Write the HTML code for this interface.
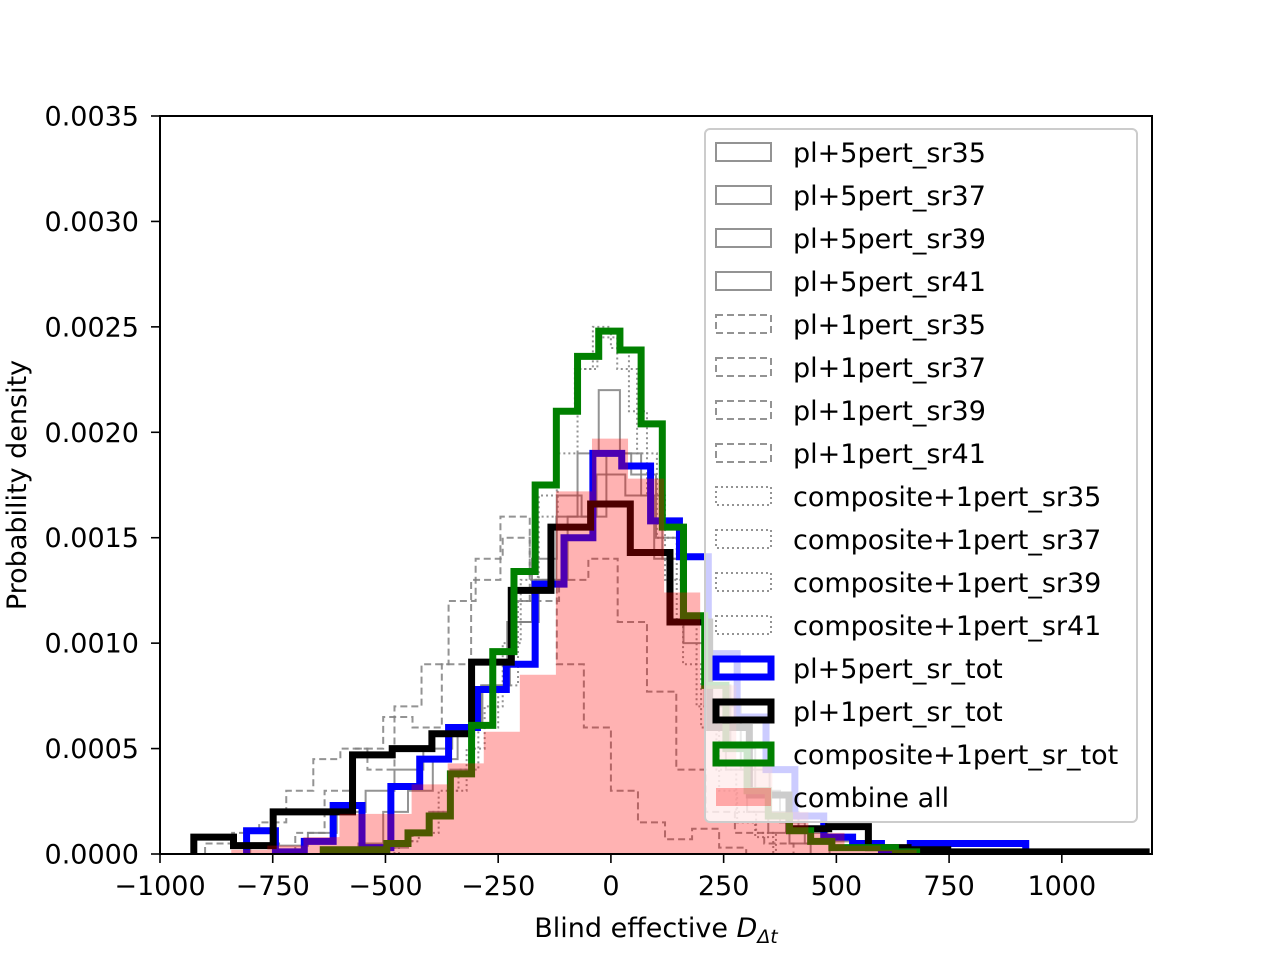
<!DOCTYPE html>
<html><head><meta charset="utf-8"><style>
html,body{margin:0;padding:0;background:#fff;width:1280px;height:960px;overflow:hidden}
svg{display:block;font-family:"DejaVu Sans","Liberation Sans",sans-serif}
</style></head><body>
<svg id="chart" width="1280" height="960" viewBox="0 0 1280 960" xmlns="http://www.w3.org/2000/svg">
<defs><clipPath id="plotclip"><rect x="160" y="116" width="992" height="738"/></clipPath></defs>
<g id="marks" clip-path="url(#plotclip)"></g>
<g id="axes"></g>
<g id="legend"></g>
</svg>
<script>
// ---- data ----
const xTicks = [-1000, -750, -500, -250, 0, 250, 500, 750, 1000];
const xTickLabels = ["\u22121000", "\u2212750", "\u2212500", "\u2212250", "0", "250", "500", "750", "1000"];
const yTicks = [0, 0.0005, 0.001, 0.0015, 0.002, 0.0025, 0.003, 0.0035];
const yTickLabels = ["0.0000", "0.0005", "0.0010", "0.0015", "0.0020", "0.0025", "0.0030", "0.0035"];

const pl5sr35Start = -497, pl5sr35Width = 47;
const pl5sr35 = [0.00003,0.0001,0.0002,0.0004,0.0006,0.0009,0.0012,0.0013,0.0016,0.0019,0.0022,0.0019,0.0017,0.0014,0.001,0.0007,0.0004,0.0002,0.0001,0.00005];
const pl5sr37Start = -800, pl5sr37Width = 64;
const pl5sr37 = [0.00005,0.00004,0.0001,0.0002,0.0003,0.0004,0.0005,0.0006,0.0008,0.0011,0.0013,0.0016,0.0018,0.0017,0.0014,0.0011,0.0007,0.0004,0.0002,0.0001,0.00006,0.00003];
const pl5sr41Start = -560, pl5sr41Width = 55;
const pl5sr41 = [0.00005,0.0002,0.0003,0.00045,0.0006,0.0008,0.0011,0.0014,0.0017,0.0016,0.0019,0.0018,0.0015,0.0011,0.0008,0.0005,0.0003,0.00015,0.00005];
const pl1sr35Start = -700, pl1sr35Width = 65;
const pl1sr35 = [0.0001,0.0003,0.0005,0.00065,0.0006,0.0009,0.0013,0.0016,0.0012,0.0013,0.0014,0.0011,0.00077,0.0004,0.0002,0.0001,0.00005];
const pl1sr37Start = -900, pl1sr37Width = 60;
const pl1sr37 = [0.00005,0.0001,0.00015,0.0003,0.00045,0.0005,0.0004,0.0007,0.0009,0.0012,0.0014,0.0015,0.0013,0.0009,0.0006,0.0003,0.00015,0.00007,0.00012,0.00003];
const comp35Start = -480, comp35Width = 40;
const comp35 = [0.00005,0.0001,0.0002,0.0003,0.0005,0.0007,0.0010,0.0013,0.0017,0.0021,0.0023,0.0025,0.0024,0.0021,0.0017,0.0013,0.0009,0.0006,0.0003,0.00015,0.00008];
const comp39Start = -470, comp39Width = 44;
const comp39 = [0.00006,0.0001,0.0003,0.0004,0.0006,0.0008,0.0012,0.0016,0.0019,0.0023,0.00245,0.0023,0.0019,0.0015,0.0011,0.0007,0.0004,0.0002,0.0001];

const blueStart = -808, blueWidth = 64;
const blueTot = [0.00011,0.00001,0.00006,0.00023,0.00003,0.00032,0.00045,0.0006,0.00078,0.0009,0.00128,0.0015,0.0019,0.00184,0.00158,0.00141,0.00095,0.00065,0.0004,0.00018,0.00008,0.00005,0.00002,0.00005,0.00005,0.00005,0.00005];
const blackStart = -925, blackWidth = 88;
const blackTot = [0.00008,0.00004,0.0002,0.0002,0.00047,0.0005,0.00057,0.00091,0.00125,0.00155,0.00166,0.00143,0.0011,0.0006,0.00028,0.00012,0.00013,0.00003,0.00002,0.00001,0.00001,0.00001,0.00001,0.00001];
const greenStart = -638, greenWidth = 47;
const greenTot = [0.00002,0.00002,0.00002,0.00005,0.0001,0.00018,0.00038,0.00061,0.00096,0.00134,0.00175,0.0021,0.00236,0.00248,0.00239,0.00204,0.00155,0.00113,0.0008,0.0005,0.0003,0.00018,0.00011,0.00006,0.00003,0.00003,0.00003,0.00001];
const combStart = -842, combWidth = 80;
const combAll = [0.00002,0.00004,0.00008,0.00019,0.00019,0.00033,0.00043,0.00058,0.00085,0.00172,0.00197,0.00178,0.00124,0.0008,0.00045,0.0002,0.0001,0.00004,0.00002];

const legendLabels = ["pl+5pert_sr35","pl+5pert_sr37","pl+5pert_sr39","pl+5pert_sr41","pl+1pert_sr35","pl+1pert_sr37","pl+1pert_sr39","pl+1pert_sr41","composite+1pert_sr35","composite+1pert_sr37","composite+1pert_sr39","composite+1pert_sr41","pl+5pert_sr_tot","pl+1pert_sr_tot","composite+1pert_sr_tot","combine all"];

// ---- scales ----
const X0 = 160, X1 = 1152, Y0 = 854, Y1 = 116;
const xMin = -1000, xMax = 1200, yMax = 0.0035;
function xs(v){ return X0 + (v - xMin) / (xMax - xMin) * (X1 - X0); }
function ys(v){ return Y0 - v / yMax * (Y0 - Y1); }
const NS = "http://www.w3.org/2000/svg";
function mk(tag, attrs, parent){ const e = document.createElementNS(NS, tag); for (const k in attrs) e.setAttribute(k, attrs[k]); parent.appendChild(e); return e; }

function stepPath(start, width, vals){
  let d = "M" + xs(start) + "," + ys(0);
  vals.forEach((v, i) => {
    const a = xs(start + i * width), b = xs(start + (i + 1) * width);
    d += " L" + a + "," + ys(v) + " L" + b + "," + ys(v);
  });
  d += " L" + xs(start + vals.length * width) + "," + ys(0);
  return d;
}
const marks = document.getElementById("marks");
function hist(name, start, width, vals, style){
  const p = mk("path", Object.assign({d: stepPath(start, width, vals), fill: "none"}, style), marks);
  
  
  return p;
}
const gsolid = {stroke: "#808080", "stroke-opacity": "0.85", "stroke-width": "2"};
const gdash = {stroke: "#808080", "stroke-opacity": "0.85", "stroke-width": "2", "stroke-dasharray": "7,4"};
const gdot = {stroke: "#808080", "stroke-opacity": "0.85", "stroke-width": "2", "stroke-dasharray": "2,3"};
hist("hist-pl5-sr35", pl5sr35Start, pl5sr35Width, pl5sr35, gsolid);
hist("hist-pl5-sr37", pl5sr37Start, pl5sr37Width, pl5sr37, gsolid);
hist("hist-pl5-sr41", pl5sr41Start, pl5sr41Width, pl5sr41, gsolid);
hist("hist-pl1-sr35", pl1sr35Start, pl1sr35Width, pl1sr35, gdash);
hist("hist-pl1-sr37", pl1sr37Start, pl1sr37Width, pl1sr37, gdash);
hist("hist-composite-sr35", comp35Start, comp35Width, comp35, gdot);
hist("hist-composite-sr39", comp39Start, comp39Width, comp39, gdot);
hist("hist-pl5-tot", blueStart, blueWidth, blueTot, {stroke: "#0000ff", "stroke-width": "7", "stroke-linejoin": "miter"});
hist("hist-pl1-tot", blackStart, blackWidth, blackTot, {stroke: "#000000", "stroke-width": "7", "stroke-linejoin": "miter"});
hist("hist-composite-tot", greenStart, greenWidth, greenTot, {stroke: "#008000", "stroke-width": "7", "stroke-linejoin": "miter"});
const fillP = mk("path", {d: stepPath(combStart, combWidth, combAll) + " Z", fill: "#ff0000", "fill-opacity": "0.3", stroke: "none"}, marks);



// ---- axes ----
const axes = document.getElementById("axes");
const frame = mk("rect", {x: X0, y: Y1, width: X1 - X0, height: Y0 - Y1, fill: "none", stroke: "#000", "stroke-width": "2"}, axes);


xTicks.forEach((t, i) => {
  const x = xs(t);
  const tk = mk("line", {x1: x, x2: x, y1: Y0, y2: Y0 + 9, stroke: "#000", "stroke-width": "1.6"}, axes);
  
  
  const tx = mk("text", {x: x, y: 895, "text-anchor": "middle", "font-size": "27", fill: "#000"}, axes);
  tx.textContent = xTickLabels[i];
  
  
});
yTicks.forEach((t, i) => {
  const y = ys(t);
  const tk = mk("line", {x1: X0 - 9, x2: X0, y1: y, y2: y, stroke: "#000", "stroke-width": "1.6"}, axes);
  
  
  const tx = mk("text", {x: 139, y: y + 9.5, "text-anchor": "end", "font-size": "27", fill: "#000"}, axes);
  tx.textContent = yTickLabels[i];
  
  
});
const xl = mk("text", {x: 656, y: 937, "text-anchor": "middle", "font-size": "27", fill: "#000"}, axes);
xl.innerHTML = 'Blind effective <tspan font-style="italic">D</tspan><tspan font-style="italic" font-size="19" dy="6">Δt</tspan>';


const yl = mk("text", {x: 0, y: 0, "text-anchor": "middle", "font-size": "27", fill: "#000", transform: "translate(26,485) rotate(-90)"}, axes);
yl.textContent = "Probability density";



// ---- legend ----
const lg = document.getElementById("legend");
const box = mk("rect", {x: 705, y: 129, width: 432, height: 693, rx: 5, fill: "#fff", "fill-opacity": "0.8", stroke: "#cccccc", "stroke-width": "2"}, lg);


const handleStyles = [gsolid,gsolid,gsolid,gsolid,gdash,gdash,gdash,gdash,gdot,gdot,gdot,gdot,
  {stroke:"#0000ff","stroke-width":"7"},{stroke:"#000","stroke-width":"7"},{stroke:"#008000","stroke-width":"7"},null];
legendLabels.forEach((lab, i) => {
  const cy = 152 + i * 43;
  const g = mk("g", {}, lg);
  
  
  if (handleStyles[i]) {
    mk("rect", Object.assign({x: 716, y: cy - 9, width: 55, height: 18, fill: "none"}, handleStyles[i]), g);
  } else {
    mk("rect", {x: 716, y: cy - 9, width: 55, height: 18, fill: "#ff0000", "fill-opacity": "0.3"}, g);
  }
  const t = mk("text", {x: 793, y: cy + 10, "font-size": "27", fill: "#000"}, g);
  t.textContent = lab;
});
</script>
</body></html>
